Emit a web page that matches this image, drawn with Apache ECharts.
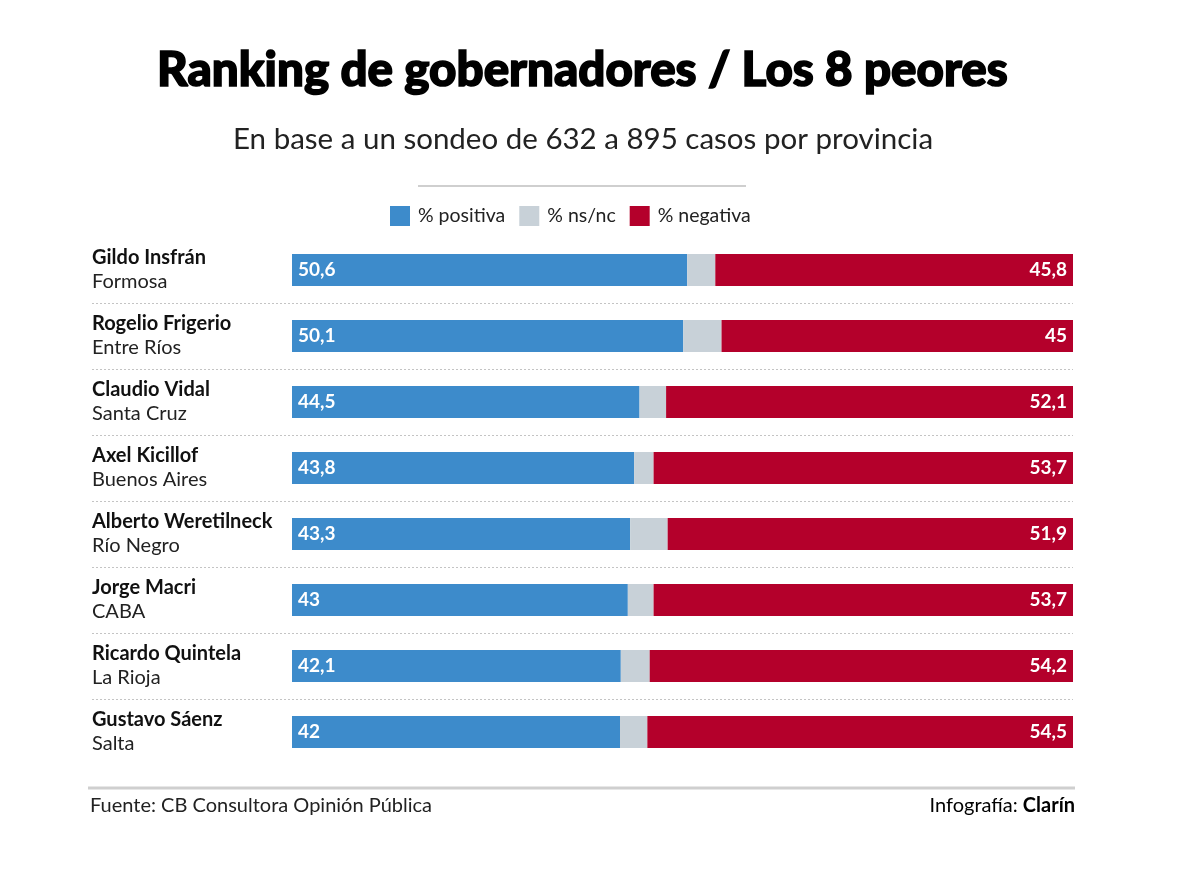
<!DOCTYPE html>
<html>
<head>
<meta charset="utf-8">
<script src="https://cdn.jsdelivr.net/npm/echarts@6/dist/echarts.min.js"></script>
<style>html,body{margin:0;padding:0;background:#fff}#c{width:1200px;height:869px}</style>
</head>
<body>
<div id="c"></div>
<script>
const names = ['Gildo Insfrán','Rogelio Frigerio','Claudio Vidal','Axel Kicillof','Alberto Weretilneck','Jorge Macri','Ricardo Quintela','Gustavo Sáenz'];
const provinces = ['Formosa','Entre Ríos','Santa Cruz','Buenos Aires','Río Negro','CABA','La Rioja','Salta'];
const positiva = [50.6, 50.1, 44.5, 43.8, 43.3, 43, 42.1, 42];
const nsnc = [3.6, 4.9, 3.4, 2.5, 4.8, 3.3, 3.7, 3.5];
const negativa = [45.8, 45, 52.1, 53.7, 51.9, 53.7, 54.2, 54.5];

const FONT = 'Lato';
const chart = echarts.init(document.getElementById('c'), null, {renderer: 'canvas'});
const fmt = p => String(p.value).replace('.', ',');
const cats = names.map((n, i) => n + '\n' + provinces[i]);

chart.setOption({
  backgroundColor: '#fff',
  textStyle: {fontFamily: FONT},
  title: [{
    text: 'Ranking de gobernadores / Los 8 peores',
    left: 152, top: 42,
    textStyle: {fontFamily: FONT, fontWeight: 900, fontSize: 47.5, color: '#000',
      textBorderColor: '#000', textBorderWidth: 1.6}
  }, {
    text: 'En base a un sondeo de 632 a 895 casos por provincia',
    left: 228, top: 119,
    textStyle: {fontFamily: FONT, fontWeight: 400, fontSize: 29.5, color: '#222'}
  }],
  legend: {
    top: 201, left: 385,
    itemWidth: 20, itemHeight: 20, itemGap: 14,
    icon: 'rect',
    textStyle: {fontFamily: FONT, fontSize: 19.5, color: '#222', padding: [0, 0, 0, 3]},
    data: ['% positiva', '% ns/nc', '% negativa']
  },
  grid: [
    {left: 292, right: 127, top: 237, height: 528},
    {left: 92, right: 127, top: 237, height: 528}
  ],
  xAxis: [
    {gridIndex: 0, type: 'value', min: 0, max: 100, show: false},
    {gridIndex: 1, type: 'value', min: 0, max: 100, show: false}
  ],
  yAxis: [
    {
      gridIndex: 0, type: 'category', inverse: true, data: cats,
      axisLine: {show: false}, axisTick: {show: false}, splitLine: {show: false},
      axisLabel: {
        align: 'left', margin: 200,
        formatter: (v, i) => '{n|' + names[i] + '}\n{p|' + provinces[i] + '}',
        rich: {
          n: {fontFamily: FONT, fontWeight: 'bold', fontSize: 20, color: '#111', lineHeight: 24},
          p: {fontFamily: FONT, fontSize: 20, color: '#222', lineHeight: 24}
        }
      }
    },
    {
      gridIndex: 1, type: 'category', inverse: true, data: cats,
      axisLine: {show: false}, axisTick: {show: false}, axisLabel: {show: false},
      splitLine: {show: true, showMinLine: false, showMaxLine: false,
        lineStyle: {color: '#c4c4c4', type: [2, 2], width: 1}}
    }
  ],
  series: [
    {
      name: '% positiva', type: 'bar', stack: 's', barWidth: 32, data: positiva,
      itemStyle: {color: '#3d8bcb'},
      label: {show: true, position: 'insideLeft', distance: 6, formatter: fmt,
        color: '#fff', fontFamily: FONT, fontWeight: 'bold', fontSize: 19}
    },
    {
      name: '% ns/nc', type: 'bar', stack: 's', barWidth: 32, data: nsnc,
      itemStyle: {color: '#c8d1d8'}
    },
    {
      name: '% negativa', type: 'bar', stack: 's', barWidth: 32, data: negativa,
      itemStyle: {color: '#b4002b'},
      label: {show: true, position: 'insideRight', distance: 6, formatter: fmt,
        color: '#fff', fontFamily: FONT, fontWeight: 'bold', fontSize: 19}
    }
  ],
  graphic: [
    {type: 'line', shape: {x1: 418, y1: 186, x2: 746, y2: 186}, style: {stroke: '#cfcfcf', lineWidth: 2}},
    {type: 'line', shape: {x1: 88, y1: 788, x2: 1075, y2: 788}, style: {stroke: '#cfcfcf', lineWidth: 3}},
    {type: 'text', left: 90, top: 796, style: {text: 'Fuente: CB Consultora Opinión Pública', fontFamily: FONT, fontSize: 20, fill: '#222'}},
    {type: 'text', right: 125, top: 796, style: {
      text: '{a|Infografía: }{b|Clarín}',
      rich: {a: {fontFamily: FONT, fontSize: 20, color: '#222'}, b: {fontFamily: FONT, fontSize: 20, fontWeight: 'bold', color: '#111'}}
    }}
  ]
});
</script>
</body>
</html>
